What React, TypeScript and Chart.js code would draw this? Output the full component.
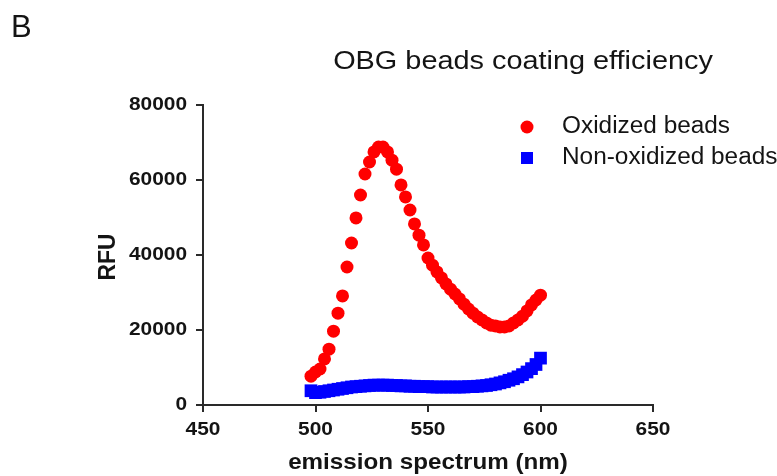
import React, { useEffect, useRef } from "react";
import { Chart, registerables } from "chart.js";

Chart.register(...registerables);

const wavelengths = [
  498, 500, 502, 504, 506, 508, 510, 512, 514, 516, 518, 520, 522, 524, 526, 528, 530,
  532, 534, 536, 538, 540, 542, 544, 546, 548, 550, 552, 554, 556, 558, 560, 562, 564,
  566, 568, 570, 572, 574, 576, 578, 580, 582, 584, 586, 588, 590, 592, 594, 596, 598, 600,
];

const oxidized = [
  7700, 8800, 9600, 12300, 14900, 19700, 24500, 29100, 36800, 43200, 49900, 56000, 61600,
  64800, 67500, 68800, 68800, 67500, 65300, 62900, 58700, 55500, 52000, 48300, 45300, 42700,
  39200, 37300, 35500, 33900, 32300, 30900, 29600, 28300, 26900, 25600, 24500, 23500, 22700,
  21900, 21300, 21100, 20800, 20800, 21100, 21900, 22700, 23700, 25100, 26700, 28000, 29300,
];

const nonOxidized = [
  3800, 3300, 3400, 3600, 3800, 4000, 4200, 4400, 4600, 4800, 4900, 5000, 5100, 5200, 5300,
  5300, 5300, 5300, 5200, 5200, 5100, 5100, 5000, 5000, 4900, 4900, 4900, 4800, 4800, 4800,
  4800, 4800, 4800, 4800, 4800, 4900, 4900, 5000, 5100, 5200, 5400, 5600, 5900, 6200, 6600,
  7000, 7500, 8100, 8800, 9700, 10800, 12500,
];

const xTicks = [450, 500, 550, 600, 650];
const yTicks = [0, 20000, 40000, 60000, 80000];

const seriesNames = ["Oxidized beads", "Non-oxidized beads"];
const chartTitle = "OBG beads coating efficiency";
const panelLabel = "B";
const xTitle = "emission spectrum (nm)";
const yTitle = "RFU";

const TEXT = "#141414";
const FONT = "'Liberation Sans', Arial, Helvetica, sans-serif";

function drawText(
  ctx: CanvasRenderingContext2D,
  text: string,
  x: number,
  y: number,
  font: string,
  align: CanvasTextAlign,
  sx: number
) {
  ctx.save();
  ctx.translate(x, y);
  ctx.scale(sx, 1);
  ctx.font = font;
  ctx.fillStyle = TEXT;
  ctx.textAlign = align;
  ctx.textBaseline = "middle";
  ctx.fillText(text, 0, 0);
  ctx.restore();
}

const labelsPlugin = {
  id: "customLabels",
  afterDraw(chart: any) {
    const ctx = chart.ctx as CanvasRenderingContext2D;
    const xs = chart.scales.x;
    const ys = chart.scales.y;
    // panel letter
    drawText(ctx, panelLabel, 11, 28, `400 31px ${FONT}`, "left", 1.0);
    // title
    drawText(ctx, chartTitle, 523, 62, `400 26px ${FONT}`, "center", 1.11);
    // tick labels
    xTicks.forEach((v) => {
      drawText(ctx, String(v), xs.getPixelForValue(v), 430, `700 19px ${FONT}`, "center", 1.1);
    });
    yTicks.forEach((v) => {
      drawText(ctx, String(v), 187, ys.getPixelForValue(v), `700 19px ${FONT}`, "right", 1.1);
    });
    // axis titles
    const xMid = (xs.left + xs.right) / 2;
    drawText(ctx, xTitle, xMid, 463, `700 22px ${FONT}`, "center", 1.1);
    const yMid = (ys.top + ys.bottom) / 2;
    ctx.save();
    ctx.translate(108, yMid + 2);
    ctx.rotate(-Math.PI / 2);
    ctx.scale(1.04, 1.1);
    ctx.font = `700 22px ${FONT}`;
    ctx.fillStyle = TEXT;
    ctx.textAlign = "center";
    ctx.textBaseline = "middle";
    ctx.fillText(yTitle, 0, 0);
    ctx.restore();
    // legend
    ctx.save();
    ctx.fillStyle = "#ff0000";
    ctx.beginPath();
    ctx.arc(527, 127, 6.5, 0, Math.PI * 2);
    ctx.fill();
    ctx.fillStyle = "#0000ff";
    ctx.fillRect(521, 152, 12, 12);
    ctx.restore();
    drawText(ctx, seriesNames[0], 562, 127, `400 23px ${FONT}`, "left", 1.06);
    drawText(ctx, seriesNames[1], 562, 158, `400 23px ${FONT}`, "left", 1.06);
  },
};

export default function App() {
  const ref = useRef<HTMLCanvasElement | null>(null);
  useEffect(() => {
    document.body.style.margin = "0";
    const canvas = ref.current;
    if (!canvas) return;
    const axisCommon = {
      grid: {
        display: true,
        drawOnChartArea: false,
        drawTicks: true,
        tickLength: 7,
        color: "#2a2a2a",
        lineWidth: 2,
      },
      border: { display: true, color: "#2a2a2a", width: 2 },
    };
    const chart = new Chart(canvas, {
      type: "scatter",
      data: {
        datasets: [
          {
            label: seriesNames[1],
            data: wavelengths.map((x, i) => ({ x, y: nonOxidized[i] })),
            pointStyle: "rect",
            pointRadius: 9,
            backgroundColor: "#0000ff",
            borderWidth: 0,
          },
          {
            label: seriesNames[0],
            data: wavelengths.map((x, i) => ({ x, y: oxidized[i] })),
            pointStyle: "circle",
            pointRadius: 6.5,
            backgroundColor: "#ff0000",
            borderWidth: 0,
          },
        ],
      },
      options: {
        responsive: false,
        animation: false,
        layout: { padding: { top: 105, right: 124, left: 0, bottom: 0 } },
        plugins: { legend: { display: false }, title: { display: false }, tooltip: { enabled: false } },
        scales: {
          x: {
            type: "linear",
            min: 450,
            max: 650,
            ...axisCommon,
            ticks: { stepSize: 50, color: "rgba(0,0,0,0)" },
            afterFit: (s: any) => {
              s.height = 71;
            },
          },
          y: {
            type: "linear",
            min: 0,
            max: 80000,
            ...axisCommon,
            ticks: { stepSize: 20000, color: "rgba(0,0,0,0)" },
            afterFit: (s: any) => {
              s.width = 203;
            },
          },
        },
      } as any,
      plugins: [labelsPlugin],
    });
    return () => chart.destroy();
  }, []);
  return <canvas ref={ref} width={777} height={476} style={{ display: "block", width: 777, height: 476 }} />;
}
